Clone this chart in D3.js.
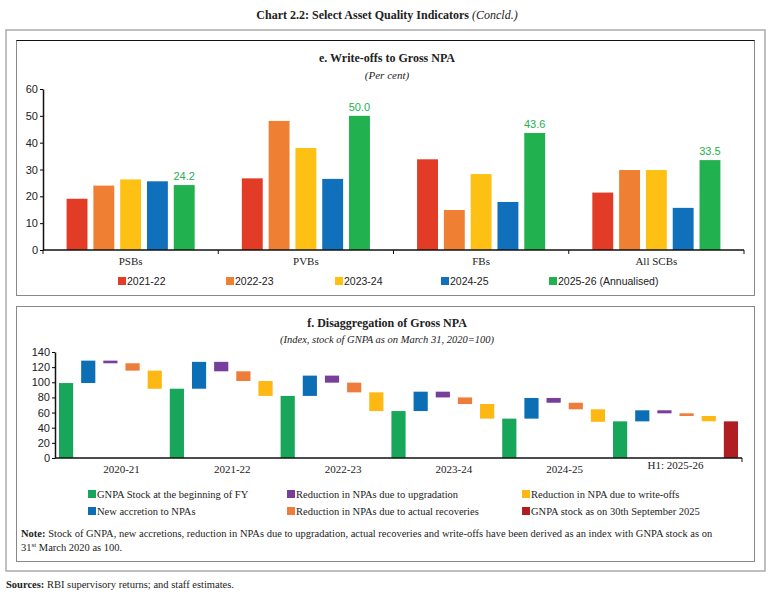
<!DOCTYPE html>
<html>
<head>
<meta charset="utf-8">
<script src="https://cdn.jsdelivr.net/npm/d3@7"></script>
<style>
  body { margin: 0; background: #fff; }
  text { fill: #222; }
</style>
</head>
<body>
<div id="chart"></div>
<script>
// panel e: write-offs to gross NPA (per cent)
const eCategories = ['PSBs', 'PVBs', 'FBs', 'All SCBs'];
const eSeries = ['2021-22', '2022-23', '2023-24', '2024-25', '2025-26 (Annualised)'];
const eValues = [
  [19.1, 24.0, 26.3, 25.6, 24.2],
  [26.7, 48.1, 38.0, 26.5, 50.0],
  [33.8, 14.9, 28.3, 17.9, 43.6],
  [21.4, 29.8, 29.8, 15.7, 33.5]
];
const eTicks = [0, 10, 20, 30, 40, 50, 60];

// panel f: disaggregation of gross NPA (index, March 31, 2020 = 100)
const fYears = ['2020-21', '2021-22', '2022-23', '2023-24', '2024-25', 'H1: 2025-26'];
const fOpening = [99, 91.5, 82, 62, 52, 48.4];
const fAccretion = [29.6, 35.5, 26.8, 25.6, 27.3, 14.6];
const fUpgradation = [3.5, 12.5, 9.3, 7.6, 6.3, 4.0];
const fRecoveries = [9.7, 12.8, 12.8, 8.7, 8.7, 3.5];
const fWriteOffs = [24.0, 19.7, 24.7, 19.3, 16.5, 7.0];
const fClosing = 48.4;
const fTicks = [0, 20, 40, 60, 80, 100, 120, 140];
const fLegend = [
  'GNPA Stock at the beginning of FY', 'Reduction in NPAs due to upgradation', 'Reduction in NPA due to write-offs',
  'New accretion to NPAs', 'Reduction in NPAs due to actual recoveries', 'GNPA stock as on 30th September 2025'
];

const eColors = ['#e23b26', '#ef7f32', '#fdc013', '#1170bb', '#21b14f'];
const fColors = {
  open: '#18a75a', accr: '#0c6fb6', upg: '#773e9c', rec: '#ee7c3b', wo: '#fdb813', close: '#b01e24'
};
const serif = '"Liberation Serif", "Times New Roman", serif';
const sans = '"Liberation Sans", Arial, sans-serif';

const svg = d3.select('#chart').append('svg')
  .attr('width', 774).attr('height', 597);

// heading
const head = svg.append('text')
  .attr('x', 387).attr('y', 19)
  .attr('text-anchor', 'middle')
  .style('font-family', serif).style('font-size', '12px');
head.append('tspan').style('font-weight', 'bold').text('Chart 2.2: Select Asset Quality Indicators ');
head.append('tspan').style('font-style', 'italic').text('(Concld.)');

// frames
svg.append('rect').attr('x', 6).attr('y', 30).attr('width', 759).attr('height', 541)
  .attr('fill', 'none').attr('stroke', '#aaa').attr('stroke-width', 1.5);
svg.append('rect').attr('x', 16.5).attr('y', 40.5).attr('width', 738).attr('height', 255)
  .attr('fill', 'none').attr('stroke', '#888').attr('stroke-width', 1);
svg.append('line').attr('x1', 16.5).attr('x2', 754.5).attr('y1', 40.5).attr('y2', 40.5)
  .attr('stroke', '#111').attr('stroke-width', 1);
svg.append('rect').attr('x', 16.5).attr('y', 306.5).attr('width', 738).attr('height', 255)
  .attr('fill', 'none').attr('stroke', '#888').attr('stroke-width', 1);

// ---------- panel e ----------
svg.append('text').attr('x', 387).attr('y', 62).attr('text-anchor', 'middle')
  .style('font-family', serif).style('font-size', '12px').style('font-weight', 'bold')
  .text('e. Write-offs to Gross NPA');
svg.append('text').attr('x', 387).attr('y', 79).attr('text-anchor', 'middle')
  .style('font-family', serif).style('font-size', '11px').style('font-style', 'italic')
  .text('(Per cent)');

const ex0 = d3.scaleBand().domain(eCategories).range([43, 744]);
const ex1 = d3.scaleBand().domain(eSeries).range([0, ex0.bandwidth()])
  .paddingInner(0.22).paddingOuter(0.88);
const ey = d3.scaleLinear().domain([0, 60]).range([250, 89]);

const eg = svg.append('g');
eg.selectAll('g.grp')
  .data(eValues)
  .join('g')
  .attr('class', 'grp')
  .attr('transform', (d, i) => `translate(${ex0(eCategories[i])},0)`)
  .selectAll('rect')
  .data(d => d.map((v, j) => ({ v, s: eSeries[j], j })))
  .join('rect')
  .attr('x', d => ex1(d.s))
  .attr('y', d => ey(d.v))
  .attr('width', ex1.bandwidth())
  .attr('height', d => ey(0) - ey(d.v))
  .attr('fill', d => eColors[d.j]);

// data labels on the last series
eg.selectAll('text.lbl')
  .data(eValues)
  .join('text')
  .attr('class', 'lbl')
  .attr('x', (d, i) => ex0(eCategories[i]) + ex1(eSeries[4]) + ex1.bandwidth() / 2)
  .attr('y', d => ey(d[4]) - 5)
  .attr('text-anchor', 'middle')
  .style('font-family', sans).style('font-size', '11px')
  .style('fill', '#21b14f')
  .text(d => d[4].toFixed(1));

const eyAxis = svg.append('g')
  .attr('transform', 'translate(43,0)')
  .call(d3.axisLeft(ey).tickValues(eTicks).tickSize(3).tickPadding(2).tickSizeOuter(0));
eyAxis.select('.domain').attr('stroke', '#111').attr('stroke-width', 1.5);
eyAxis.selectAll('text').style('font-family', sans).style('font-size', '11px');

const exAxis = svg.append('g').attr('transform', 'translate(0,250)');
exAxis.append('line').attr('x1', 43).attr('x2', 744).attr('stroke', '#111').attr('stroke-width', 1.5);
exAxis.selectAll('line.tk')
  .data(eCategories.map(c => ex0(c)).concat([744]))
  .join('line')
  .attr('class', 'tk')
  .attr('x1', d => d).attr('x2', d => d).attr('y1', 0).attr('y2', 4)
  .attr('stroke', '#111');
exAxis.selectAll('text')
  .data(eCategories)
  .join('text')
  .attr('x', d => ex0(d) + ex0.bandwidth() / 2)
  .attr('y', 15)
  .attr('text-anchor', 'middle')
  .style('font-family', serif).style('font-size', '11px')
  .text(d => d);

const eLegX = [118, 226, 335, 441, 549];
const eLeg = svg.append('g').selectAll('g')
  .data(eSeries)
  .join('g')
  .attr('transform', (d, i) => `translate(${eLegX[i]},277)`);
eLeg.append('rect').attr('width', 8).attr('height', 8).attr('fill', (d, i) => eColors[i]);
eLeg.append('text').attr('x', 9).attr('y', 8)
  .style('font-family', sans).style('font-size', '10.5px')
  .text(d => d);

// ---------- panel f ----------
svg.append('text').attr('x', 387).attr('y', 327).attr('text-anchor', 'middle')
  .style('font-family', serif).style('font-size', '12px').style('font-weight', 'bold')
  .text('f. Disaggregation of Gross NPA');
svg.append('text').attr('x', 387).attr('y', 343).attr('text-anchor', 'middle')
  .style('font-family', serif).style('font-size', '10.5px').style('font-style', 'italic')
  .text('(Index, stock of GNPA as on March 31, 2020=100)');

// build floating bars from the series
const fBars = [];
fYears.forEach((yr, i) => {
  let lvl = fOpening[i];
  fBars.push({ key: yr + '-open', y0: 0, y1: lvl, c: fColors.open });
  fBars.push({ key: yr + '-accr', y0: lvl, y1: lvl + fAccretion[i], c: fColors.accr });
  lvl += fAccretion[i];
  fBars.push({ key: yr + '-upg', y0: lvl - fUpgradation[i], y1: lvl, c: fColors.upg });
  lvl -= fUpgradation[i];
  fBars.push({ key: yr + '-rec', y0: lvl - fRecoveries[i], y1: lvl, c: fColors.rec });
  lvl -= fRecoveries[i];
  fBars.push({ key: yr + '-wo', y0: lvl - fWriteOffs[i], y1: lvl, c: fColors.wo });
});
fBars.push({ key: 'close', y0: 0, y1: fClosing, c: fColors.close });

const fx = d3.scaleBand().domain(fBars.map(d => d.key)).range([55, 742]).padding(0.36).paddingOuter(0.18);
const fy = d3.scaleLinear().domain([0, 140]).range([458, 352]);

svg.append('g').selectAll('rect')
  .data(fBars)
  .join('rect')
  .attr('x', d => fx(d.key))
  .attr('y', d => fy(d.y1))
  .attr('width', fx.bandwidth())
  .attr('height', d => fy(d.y0) - fy(d.y1))
  .attr('fill', d => d.c);

const fyAxis = svg.append('g')
  .attr('transform', 'translate(55,0)')
  .call(d3.axisLeft(fy).tickValues(fTicks).tickSize(3).tickPadding(2).tickSizeOuter(0));
fyAxis.select('.domain').attr('stroke', '#111').attr('stroke-width', 1.5);
fyAxis.selectAll('text').style('font-family', sans).style('font-size', '11px');

const fxAxis = svg.append('g').attr('transform', 'translate(0,458)');
fxAxis.append('line').attr('x1', 55).attr('x2', 742).attr('stroke', '#111').attr('stroke-width', 1.5);
fxAxis.append('line').attr('x1', 742).attr('x2', 742).attr('y1', 0).attr('y2', 4).attr('stroke', '#111');
fxAxis.selectAll('text')
  .data(fYears)
  .join('text')
  .attr('x', d => fx(d + '-rec') - fx.step() * 0.18 * 1)
  .attr('y', d => d.startsWith('H1') ? 11 : 15)
  .attr('text-anchor', 'middle')
  .style('font-family', serif).style('font-size', '11px')
  .text(d => d);

const fLegColors = [fColors.open, fColors.upg, fColors.wo, fColors.accr, fColors.rec, fColors.close];
const fLegX = [88, 287, 522];
const fLeg = svg.append('g').selectAll('g')
  .data(fLegend)
  .join('g')
  .attr('transform', (d, i) => `translate(${fLegX[i % 3]},${490 + Math.floor(i / 3) * 17})`);
fLeg.append('rect').attr('width', 8).attr('height', 8).attr('fill', (d, i) => fLegColors[i]);
fLeg.append('text').attr('x', 9).attr('y', 8)
  .style('font-family', serif).style('font-size', '10.5px')
  .text(d => d);

// note and sources
const note = svg.append('text').attr('x', 21).attr('y', 537)
  .style('font-family', serif).style('font-size', '10.5px');
note.append('tspan').style('font-weight', 'bold').text('Note:');
note.append('tspan').text(' Stock of GNPA, new accretions, reduction in NPAs due to upgradation, actual recoveries and write-offs have been derived as an index with GNPA stock as on');
const note2 = svg.append('text').attr('x', 21).attr('y', 551)
  .style('font-family', serif).style('font-size', '10.5px');
note2.append('tspan').text('31');
note2.append('tspan').attr('dy', -4).style('font-size', '7px').text('st');
note2.append('tspan').attr('dy', 4).text(' March 2020 as 100.');

const src = svg.append('text').attr('x', 6).attr('y', 588)
  .style('font-family', serif).style('font-size', '10.5px');
src.append('tspan').style('font-weight', 'bold').text('Sources:');
src.append('tspan').text(' RBI supervisory returns; and staff estimates.');
</script>
</body>
</html>
